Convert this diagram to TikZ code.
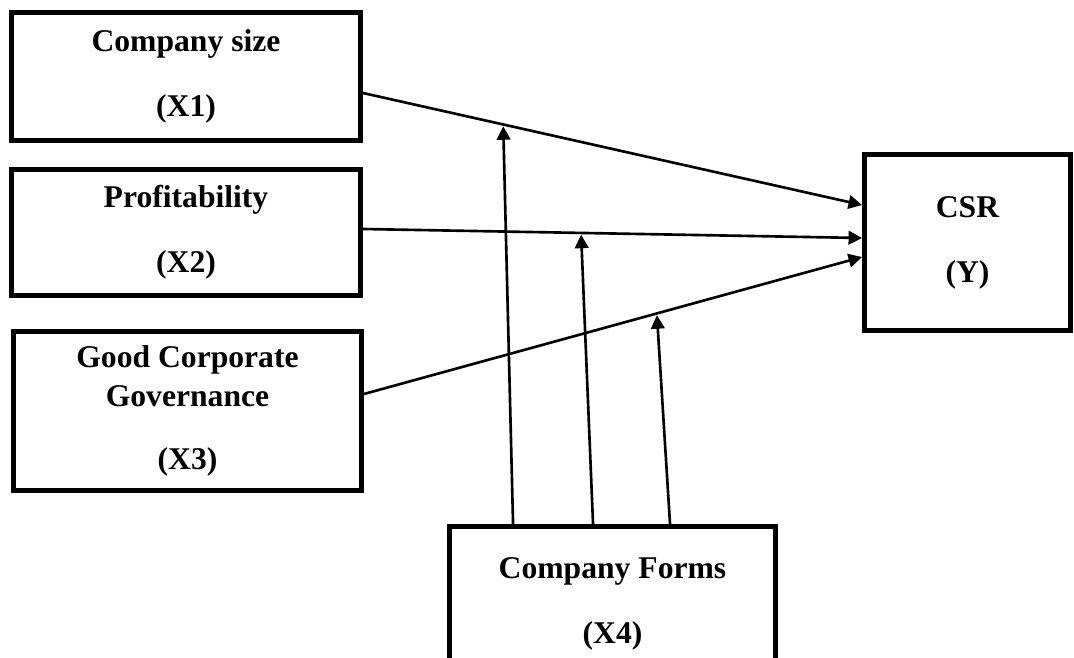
\documentclass[tikz,border=0pt]{standalone}
\usepackage{fontspec}
\setmainfont{Liberation Serif}
\usetikzlibrary{arrows.meta}

\begin{document}
\begin{tikzpicture}[x=0.02cm,y=-0.02cm,
   var/.style={draw,line width=2.8pt,align=center,inner sep=0pt,
      font=\bfseries\fontsize{18}{22}\selectfont},
   link/.style={line width=1.5pt,-{Triangle[length=0.27cm,width=0.27cm]}}]

\useasboundingbox (0,0) rectangle (1074,658);
\clip (0,0) rectangle (1074,658);

% independent variables
\node[var,minimum width=6.98cm,minimum height=2.56cm] (x1) at (186,76.5) {Company size\\[15pt](X1)};
\node[var,minimum width=6.98cm,minimum height=2.52cm] (x2) at (186,232.5) {Profitability\\[15pt](X2)};
\node[var,minimum width=6.96cm,minimum height=3.18cm] (x3) at (187.5,411) {Good Corporate\\Governance\\[14pt](X3)};

% dependent variable
\node[var,minimum width=4.12cm,minimum height=3.52cm] (csr) at (967.5,242.5) {CSR\\[15pt](Y)};

% moderating variable
\node[var,minimum width=6.52cm,minimum height=3.10cm] (x4) at (612.5,604) {Company Forms\\[15pt](X4)};

\draw[link] ([yshift=-0.33cm]x1.east) -- coordinate[pos=0.281] (m1) ([yshift=0.75cm]csr.west);
\draw[link] ([yshift=0.07cm]x2.east) -- coordinate[pos=0.437] (m2) ([yshift=0.09cm]csr.west);
\draw[link] ([yshift=0.34cm]x3.east) -- coordinate[pos=0.588] (m3) ([yshift=-0.29cm]csr.west);

\draw[link,shorten >=1pt] ([xshift=1.32cm]x4.north west) -- (m1);
\draw[link,shorten >=1pt] ([xshift=2.92cm]x4.north west) -- (m2);
\draw[link,shorten >=1pt] ([xshift=4.46cm]x4.north west) -- (m3);

\end{tikzpicture}
\end{document}
